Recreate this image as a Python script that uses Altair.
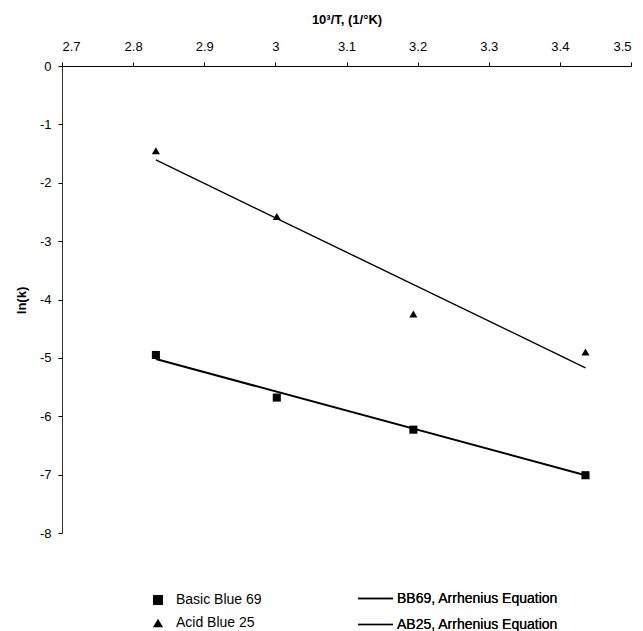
import altair as alt
import pandas as pd

# ---- data ----
x_vals = [2.832, 3.002, 3.194, 3.436]
bb69 = [-4.95, -5.68, -6.23, -7.01]
ab25 = [-1.45, -2.58, -4.25, -4.90]
fit_x = [2.832, 3.436]
bb69_fit = [-5.02, -7.01]
ab25_fit = [-1.61, -5.17]
series_names = ["Basic Blue 69", "Acid Blue 25"]
fit_names = ["BB69, Arrhenius Equation", "AB25, Arrhenius Equation"]
x_ticks = [2.7, 2.8, 2.9, 3.0, 3.1, 3.2, 3.3, 3.4, 3.5]
y_ticks = [0, -1, -2, -3, -4, -5, -6, -7, -8]

pts = pd.DataFrame(
    {"x": x_vals * 2,
     "y": bb69 + ab25,
     "series": [series_names[0]] * len(x_vals) + [series_names[1]] * len(x_vals)}
)
fits = pd.DataFrame(
    {"x": fit_x * 2,
     "y": bb69_fit + ab25_fit,
     "fit": [fit_names[0]] * 2 + [fit_names[1]] * 2}
)

FONT = "Liberation Sans"

xscale = alt.Scale(domain=[2.7, 3.5], nice=False, zero=False)
yscale = alt.Scale(domain=[-8, 0], nice=False, zero=False)

x_axis = alt.Axis(
    orient="top", values=x_ticks, labelExpr="'' + datum.value",
    title="10³/T, (1/°K)", titleFont=FONT, titleFontSize=13, titleFontWeight="bold",
    titleColor="black", titleY=-47, titleBaseline="middle",
    labelFont=FONT, labelFontSize=13, labelColor="black", labelPadding=9,
    tickSize=4, tickColor="black", domainColor="black", grid=False,
)
y_axis = alt.Axis(
    orient="left", values=y_ticks, labelExpr="'' + datum.value",
    title="ln(k)", titleFont=FONT, titleFontSize=13, titleFontWeight="bold",
    titleColor="black", titleX=-41, titleY=234, titleAngle=270,
    titleAlign="center", titleBaseline="middle",
    labelFont=FONT, labelFontSize=13, labelColor="black", labelPadding=7,
    tickSize=4, tickColor="black", domainColor="#333333", grid=False,
)

shape_legend = alt.Legend(
    title=None, orient="none", legendX=89, legendY=527, padding=0,
    labelFont=FONT, labelFontSize=14, labelColor="black", labelOffset=11,
    labelLimit=400, rowPadding=7, symbolFillColor="black", symbolStrokeColor="black",
)
line_legend = alt.Legend(
    title=None, orient="none", legendX=295, legendY=514, padding=0,
    labelFont=FONT, labelFontSize=14, labelColor="black", labelOffset=3,
    labelLimit=400, rowPadding=0, symbolType="stroke", symbolSize=1225,
)

lines = alt.Chart(fits).mark_line().encode(
    x=alt.X("x:Q", scale=xscale, axis=x_axis),
    y=alt.Y("y:Q", scale=yscale, axis=y_axis),
    color=alt.Color("fit:N", scale=alt.Scale(domain=fit_names, range=["black", "black"]),
                    legend=line_legend),
    strokeWidth=alt.StrokeWidth("fit:N", scale=alt.Scale(domain=fit_names, range=[2.0, 1.4]),
                                legend=line_legend),
    detail="fit:N",
)

points = alt.Chart(pts).mark_point(filled=True, opacity=1, color="black").encode(
    x=alt.X("x:Q", scale=xscale),
    y=alt.Y("y:Q", scale=yscale),
    shape=alt.Shape("series:N",
                    scale=alt.Scale(domain=series_names, range=["square", "triangle-up"]),
                    legend=shape_legend),
    size=alt.value(65),
)

chart = alt.layer(lines, points).resolve_scale(
    color="independent"
).properties(
    width=569, height=467,
    padding={"left": 62, "top": 66, "right": 12, "bottom": 98},
    autosize=alt.AutoSizeParams(type="none"),
    background="white",
).configure_view(stroke=None)

chart.save("out.html", embed_options={"renderer": "svg", "actions": False})
